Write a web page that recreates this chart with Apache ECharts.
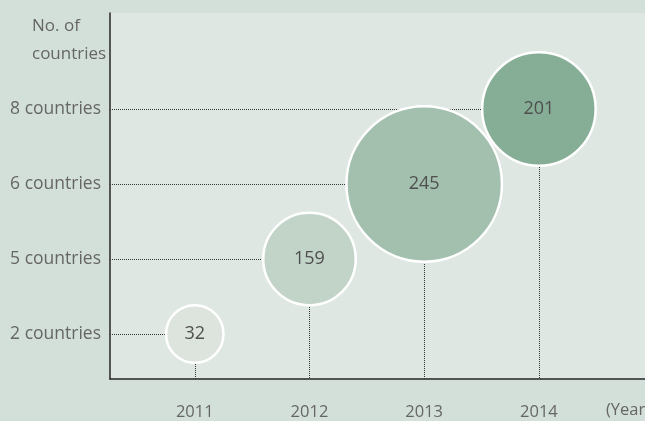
<!DOCTYPE html>
<html>
<head>
<meta charset="utf-8">
<script src="https://cdn.jsdelivr.net/npm/echarts@6/dist/echarts.min.js"></script>
<style>
  html, body { margin: 0; padding: 0; background: #d3e0d9; }
  #chart { width: 645px; height: 421px; }
</style>
</head>
<body>
<div id="chart"></div>
<script>
// Projects per year, placed at the number of participating countries
const years = [2011, 2012, 2013, 2014];
const countries = [2, 5, 6, 8];
const projects = [32, 159, 245, 201];
const countryLevels = [2, 5, 6, 8];
const yearTicks = ['2011', '2012', '2013', '2014'];

// Bubble appearance per year (diameter in px, fill colour)
const bubbleStyle = {
  2011: { d: 60, color: '#dde4de' },
  2012: { d: 95, color: '#c2d3c8' },
  2013: { d: 158, color: '#a3bfae' },
  2014: { d: 116, color: '#86ae96' }
};

const X_MIN = 2010.261, X_MAX = 2014.925;
const Y_MIN = -0.6, Y_MAX = 4.28;
const FONT = '"Open Sans", "Noto Sans", sans-serif';

const points = years.map((y, i) => [y, countryLevels.indexOf(countries[i]), projects[i]]);

const guides = [];
points.forEach(p => {
  guides.push([{ coord: [X_MIN, p[1]] }, { coord: [p[0], p[1]] }]);
  guides.push([{ coord: [p[0], p[1]] }, { coord: [p[0], Y_MIN] }]);
});

const chart = echarts.init(document.getElementById('chart'));
chart.setOption({
  animation: false,
  backgroundColor: '#d3e0d9',
  grid: {
    left: 110, top: 13, right: 0, bottom: 42,
    show: true, backgroundColor: '#dee7e1', borderWidth: 0
  },
  xAxis: {
    type: 'value', min: X_MIN, max: X_MAX,
    axisLine: { show: true, onZero: false, lineStyle: { color: '#262626', width: 1.5 } },
    axisTick: { show: false },
    splitLine: { show: false },
    axisLabel: {
      customValues: years,
      formatter: v => yearTicks[years.indexOf(v)],
      margin: 25, fontSize: 16.5, color: '#666', fontFamily: FONT
    }
  },
  yAxis: {
    type: 'value', min: Y_MIN, max: Y_MAX,
    axisLine: { show: true, onZero: false, lineStyle: { color: '#262626', width: 1.5 } },
    axisTick: { show: false },
    splitLine: { show: false },
    axisLabel: {
      customValues: countryLevels.map((c, i) => i),
      formatter: v => countryLevels[v] + ' countries',
      margin: 9, fontSize: 17.5, color: '#666', fontFamily: FONT
    }
  },
  graphic: [
    {
      type: 'text', left: 32, top: 12,
      style: {
        text: 'No. of\ncountries', fontSize: 17, lineHeight: 28,
        fill: '#666', fontFamily: FONT, align: 'left'
      }
    },
    {
      type: 'text', left: 606, top: 402,
      style: { text: '(Year)', fontSize: 16.5, fill: '#666', fontFamily: FONT }
    }
  ],
  series: [
    {
      type: 'scatter', data: [], z: 1, silent: true,
      markLine: {
        silent: true, symbol: ['none', 'none'],
        label: { show: false },
        lineStyle: { type: [1, 1], color: '#333', width: 1 },
        data: guides
      }
    },
    {
      type: 'scatter', z: 5,
      data: points,
      symbolSize: (v) => bubbleStyle[v[0]].d - 2.5,
      itemStyle: {
        opacity: 1,
        color: (p) => bubbleStyle[p.value[0]].color,
        borderColor: '#ffffff', borderWidth: 2.5
      },
      label: {
        show: true, position: 'inside',
        formatter: p => String(p.value[2]),
        fontSize: 18, color: '#4f4f4f', fontFamily: FONT, fontWeight: 500
      },
      emphasis: { disabled: true }
    }
  ]
});
</script>
</body>
</html>
